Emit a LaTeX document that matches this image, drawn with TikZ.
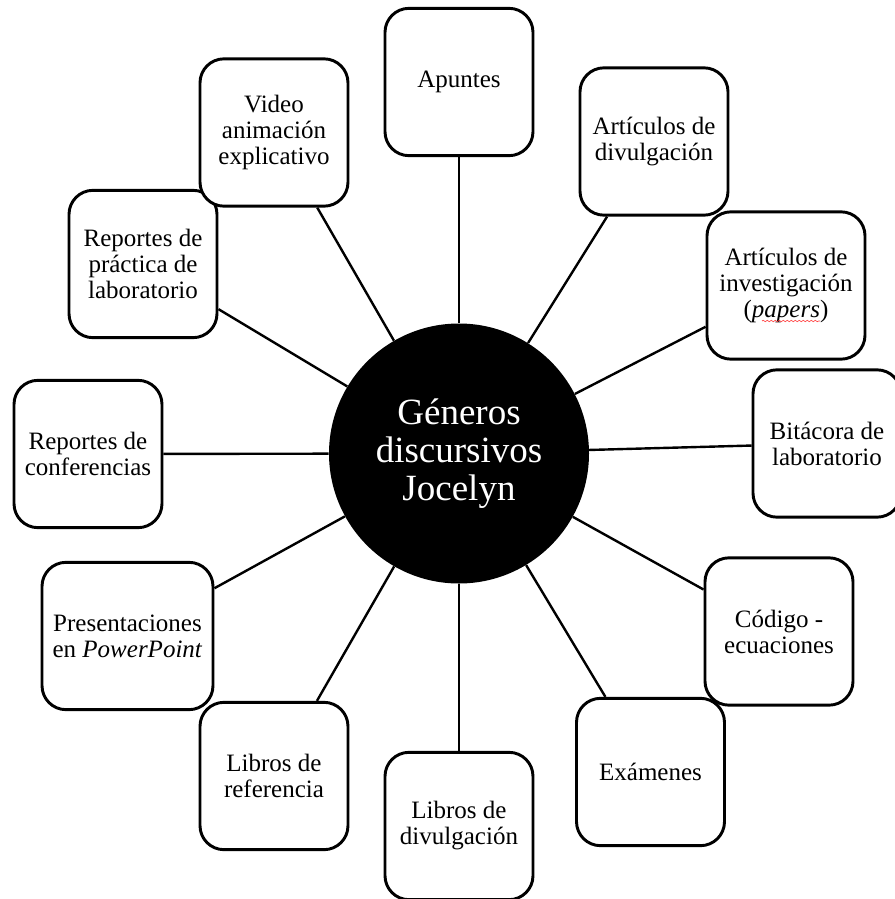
\documentclass[tikz,border=0pt]{standalone}
\usepackage{fontspec}
\setmainfont{Liberation Serif}
\usetikzlibrary{decorations.pathmorphing}
\begin{document}
\begin{tikzpicture}[x=.75pt,y=-.75pt,
    genero/.style={draw,line width=2.2pt,rounded corners=18pt,fill=white,
        minimum width=111pt,minimum height=110.5pt,align=center,inner sep=2pt,
        font=\fontsize{18.75pt}{19.5pt}\selectfont},
    nucleo/.style={circle,fill=black,text=white,minimum size=195pt,inner sep=0pt,
        align=center,font=\fontsize{27.75pt}{28.5pt}\selectfont},
    enlace/.style={line width=1.8pt}]
    \useasboundingbox (0,0) rectangle (895,899);

    %% centre
    \node (centro) at (459,453.5) [nucleo] {Géneros\\discursivos\\Jocelyn};

    %% genres, clockwise from the top
    \node (apuntes) at (459,82) [genero] {Apuntes};
    \node (artdiv) at (654,141.5) [genero] {Artículos de\\divulgación};
    \node (artinv) at (786,285.5) [genero,minimum width=118.5pt] {Artículos de\\investigación\\(\textit{papers})};
    \node (bitacora) at (827,443.5) [genero] {Bitácora de\\laboratorio};
    \node (codigo) at (779,631.5) [genero] {Código -\\ecuaciones};
    \node (examenes) at (650.5,772) [genero] {Exámenes};
    \node (librosdiv) at (459,826) [genero] {Libros de\\divulgación};
    \node (librosref) at (274,776) [genero] {Libros de\\referencia};
    \node (present) at (127.5,636) [genero,minimum width=128.25pt] {Presentaciones\\en \textit{PowerPoint}};
    \node (confer) at (88,454) [genero] {Reportes de\\conferencias};
    \node (practica) at (143,264) [genero] {Reportes de\\práctica de\\laboratorio};
    \node (video) at (274,132.5) [genero] {Video\\animación\\explicativo};

    %% spell-check mark under papers
    \draw[red!75,line width=.5pt,decorate,decoration={snake,amplitude=.5pt,segment length=3pt}]
        ([shift={(-24,35.5)}]artinv.center) -- ([shift={(34,35.5)}]artinv.center);

    %% connectors
    \foreach \g in {apuntes,artdiv,artinv,bitacora,codigo,examenes,
                    librosdiv,librosref,present,confer,practica,video}
        \draw[enlace] (centro) -- (\g);
\end{tikzpicture}
\end{document}
